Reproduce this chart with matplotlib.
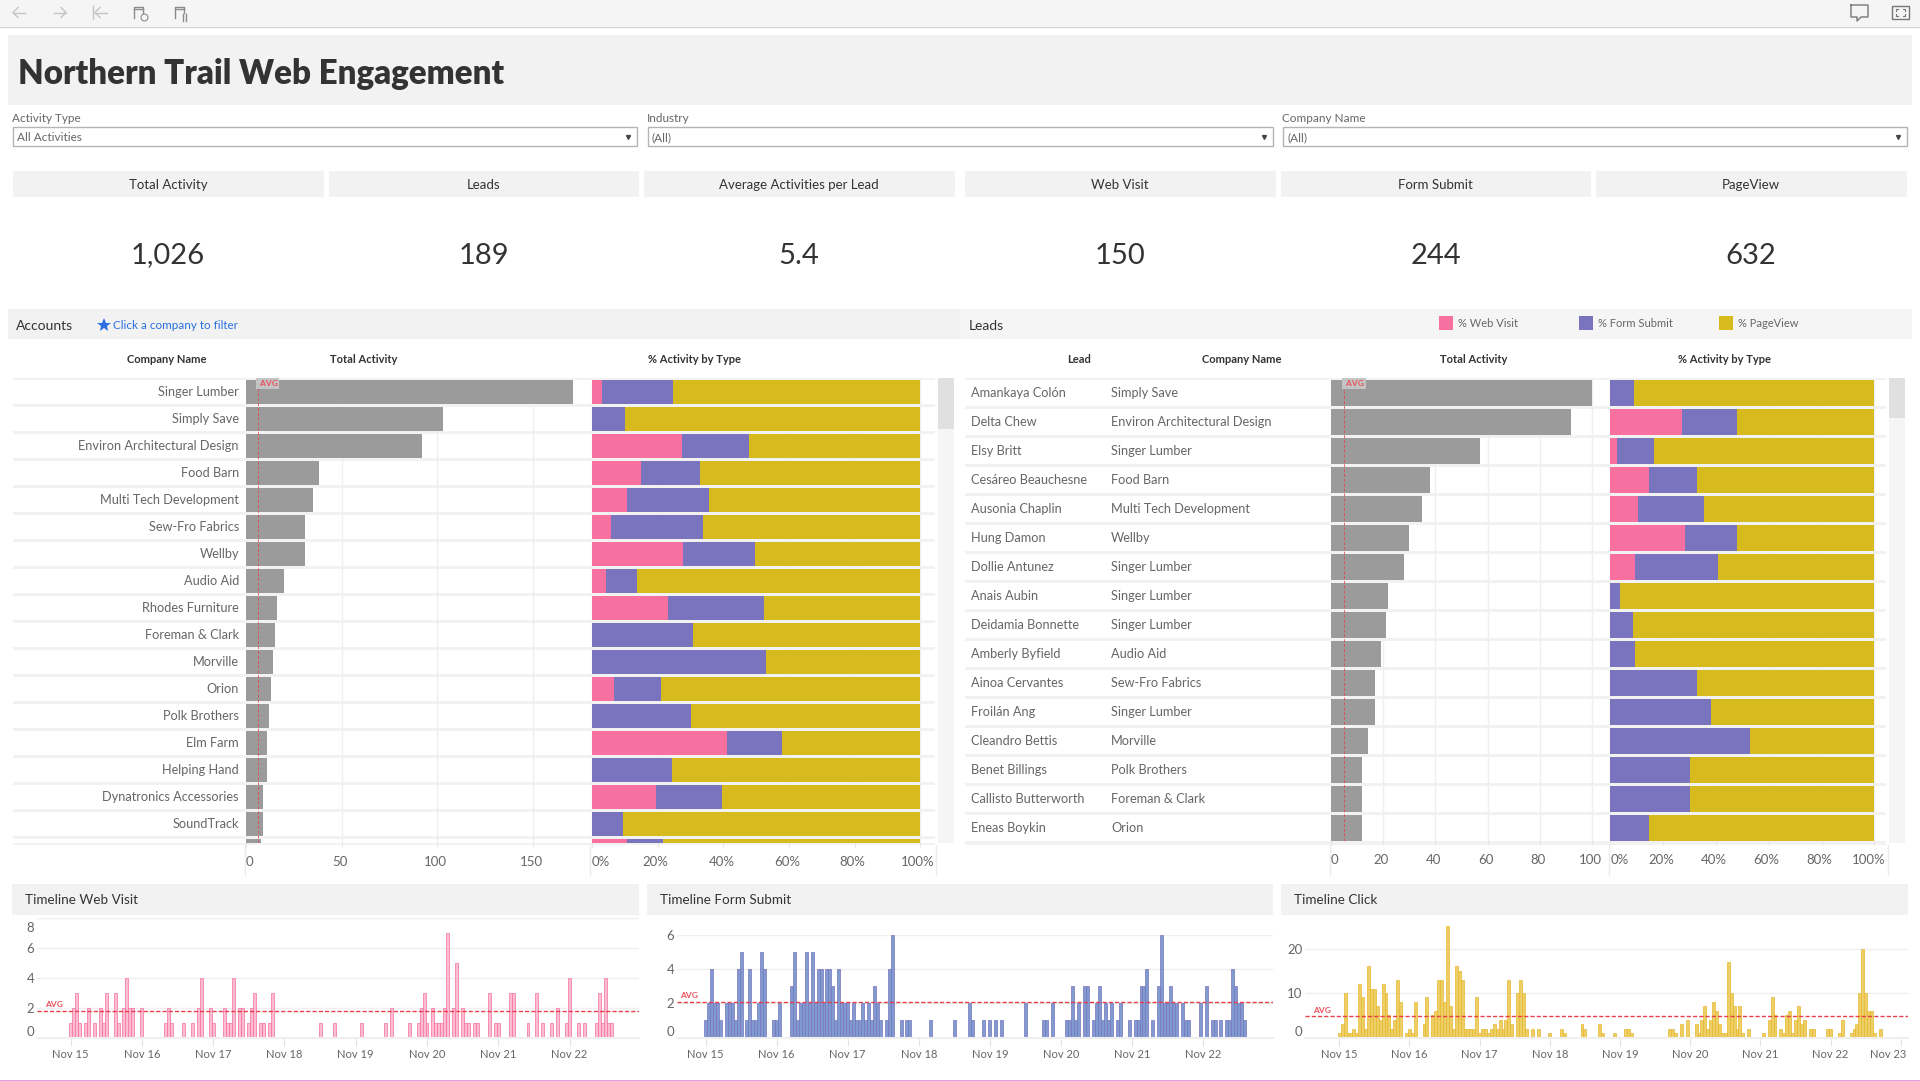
import matplotlib
matplotlib.use('Agg')
import matplotlib.pyplot as plt
from matplotlib.patches import Rectangle
from matplotlib.transforms import ScaledTranslation

plt.rcParams['font.family'] = ['Lato', 'DejaVu Sans']

W, H = 1920, 1081

# ---- data ----
kpi_titles = ['Total Activity', 'Leads', 'Average Activities per Lead', 'Web Visit', 'Form Submit', 'PageView']
kpi_values = ['1,026', '189', '5.4', '150', '244', '632']

companies = ['Singer Lumber', 'Simply Save', 'Environ Architectural Design', 'Food Barn', 'Multi Tech Development',
             'Sew-Fro Fabrics', 'Wellby', 'Audio Aid', 'Rhodes Furniture', 'Foreman & Clark', 'Morville', 'Orion',
             'Polk Brothers', 'Elm Farm', 'Helping Hand', 'Dynatronics Accessories', 'SoundTrack']
company_total = [171, 103, 92, 38, 35, 31, 31, 20, 16, 15, 14, 13, 12, 11, 11, 9, 9, 8]
company_web = [3.0, 0, 27.4, 14.9, 10.6, 5.8, 27.8, 4.3, 23.1, 0, 0, 6.7, 0, 41.0, 0, 19.4, 0, 10.6]
company_form = [21.6, 10.1, 20.4, 17.9, 25.0, 28.0, 21.8, 9.3, 29.3, 30.8, 53.0, 14.4, 30.2, 16.8, 24.4, 20.2, 9.5, 11.0]
company_avg = 6.2

leads = ['Amankaya Colón', 'Delta Chew', 'Elsy Britt', 'Cesáreo Beauchesne', 'Ausonia Chaplin', 'Hung Damon',
         'Dollie Antunez', 'Anais Aubin', 'Deidamia Bonnette', 'Amberly Byfield', 'Ainoa Cervantes', 'Froilán Ang',
         'Cleandro Bettis', 'Benet Billings', 'Callisto Butterworth', 'Eneas Boykin']
lead_company = ['Simply Save', 'Environ Architectural Design', 'Singer Lumber', 'Food Barn', 'Multi Tech Development',
                'Wellby', 'Singer Lumber', 'Singer Lumber', 'Singer Lumber', 'Audio Aid', 'Sew-Fro Fabrics',
                'Singer Lumber', 'Morville', 'Polk Brothers', 'Foreman & Clark', 'Orion']
lead_total = [100, 92, 57, 38, 35, 30, 28, 22, 21, 19, 17, 17, 14, 12, 12, 12]
lead_web = [0, 27.1, 2.6, 14.6, 10.4, 28.3, 9.3, 0, 0, 0, 0, 0, 0, 0, 0, 0]
lead_form = [9.0, 20.9, 14.1, 18.3, 25.1, 19.7, 31.5, 3.7, 8.6, 9.3, 32.9, 38.3, 52.9, 30.2, 30.2, 14.6]
lead_avg = 5.0

# hour offset from Nov 15 00:00 and count in that hour
web_hours = [0, 1, 2, 3, 5, 6, 8, 10, 11, 12, 15, 16, 18, 19, 20, 21, 24, 32, 33, 34, 38, 41, 43, 44, 47, 48, 52, 53, 54,
             55, 57, 58, 60, 61, 62, 64, 65, 67, 68, 84, 89, 98, 106, 108, 114, 117, 118, 119, 120, 122, 123, 124, 125,
             126, 127, 129, 130, 132, 133, 134, 136, 137, 141, 143, 144, 148, 149, 154, 157, 159, 162, 164, 167, 168,
             171, 173, 177, 178, 179, 180, 181, 182]
web_counts = [1, 2, 3, 1, 1, 2, 1, 2, 1, 3, 3, 1, 2, 4, 2, 2, 2, 1, 2, 1, 1, 1, 2, 4, 2, 1, 2, 1, 1,
              4, 2, 2, 1, 2, 3, 1, 1, 1, 3, 1, 1, 1, 1, 2, 1, 1, 2, 3, 1, 2, 1, 1, 1,
              2, 7, 2, 5, 2, 1, 1, 1, 1, 3, 1, 1, 3, 3, 1, 3, 1, 1, 2, 1, 4,
              1, 1, 1, 3, 1, 4, 1, 1]
web_avg = 1.78

form_hours = [0, 1, 2, 3, 4, 5, 7, 8, 9, 10, 11, 12, 14, 15, 16, 17, 18, 19, 20, 23, 24, 25, 29, 30, 31, 32, 33, 34, 35,
              36, 37, 38, 39, 40, 41, 42, 43, 44, 45, 46, 47, 48, 49, 50, 51, 52, 53, 54, 55, 56, 57, 58, 59, 61, 62, 63,
              66, 68, 69, 76, 84, 89, 90, 94, 96, 98, 100, 108, 114, 115, 117, 122, 123, 124, 125, 126, 128, 129, 131,
              132, 133, 134, 135, 136, 137, 139, 140, 143, 145, 146, 147, 148, 149, 151, 153, 154, 155, 156, 157, 158,
              159, 161, 162, 163, 167, 169, 171, 172, 174, 176, 177, 178, 179, 180, 181, 182]
form_counts = [1, 2, 4, 2, 2, 1, 2, 2, 2, 1, 4, 5, 1, 4, 1, 1, 2, 5, 4, 1, 1, 2, 3, 5, 1, 2, 2, 5, 2,
               5, 2, 4, 4, 2, 4, 4, 3, 1, 4, 2, 2, 2, 1, 2, 1, 1, 2, 1, 2, 1, 3, 2, 1, 1, 4, 6,
               1, 1, 1, 1, 1, 2, 1, 1, 1, 1, 1, 2, 1, 1, 2, 1, 1, 3, 1, 2, 3, 3, 1,
               2, 3, 1, 2, 1, 2, 1, 2, 1, 1, 1, 3, 3, 4, 1, 3, 6, 2, 2, 3, 2,
               2, 2, 1, 1, 2, 3, 1, 1, 1, 1, 1, 4, 3, 2, 2, 1]
form_avg = 2.08

click_hours = [0, 1, 2, 3, 4, 5, 6, 7, 8, 9, 10, 11, 12, 13, 14, 15, 16, 17, 18, 19, 20, 21, 23, 24, 25, 26, 29, 30, 32,
               33, 34, 35, 36, 37, 38, 39, 40, 41, 42, 43, 44, 45, 46, 47, 48, 49, 50, 51, 52, 53, 54, 55, 56, 57, 58, 59,
               61, 62, 63, 64, 66, 68, 72, 76, 77, 83, 84, 89, 90, 94, 98, 99, 100, 113, 114, 115, 117, 119, 122, 123,
               124, 125, 126, 127, 128, 129, 130, 131, 132, 133, 134, 135, 136, 137, 138, 140, 145, 147, 148, 149, 151,
               152, 153, 154, 155, 156, 157, 158, 159, 161, 162, 167, 168, 171, 172, 175, 176, 177, 178, 179, 180, 181,
               182, 183, 185]
click_counts = [1, 3, 10, 1, 1, 2, 1, 12, 9, 2, 16, 11, 11, 7, 4, 12, 10, 5, 2, 4, 13, 8, 1, 2, 1, 8, 3, 9, 5,
                6, 13, 13, 8, 25, 7, 2, 16, 15, 13, 2, 2, 2, 2, 9, 1, 2, 2, 1, 2, 3, 2, 4, 2, 4, 13, 3,
                10, 13, 10, 2, 2, 2, 1, 2, 1, 3, 2, 3, 1, 1, 2, 2, 1, 2, 2, 1, 3, 4, 3, 1,
                4, 7, 2, 4, 8, 6, 3, 1, 1, 17, 10, 7, 2, 7, 1, 2, 1, 4, 9, 5, 2,
                1, 5, 6, 1, 4, 7, 3, 4, 2, 2, 2, 2, 1, 4, 1, 2, 3, 10, 20, 10, 6,
                6, 1, 2]
click_avg = 4.76

day_labels = ['Nov 15', 'Nov 16', 'Nov 17', 'Nov 18', 'Nov 19', 'Nov 20', 'Nov 21', 'Nov 22', 'Nov 23']

PINK = '#f7709f'
PURPLE = '#7a74bf'
GOLD = '#d6ba1e'
GREY = '#9b9b9b'
RED = '#e8404a'
BAND = '#f2f2f2'
BAND2 = '#f5f5f5'
GRID = '#efefef'
TXT = '#666666'
DARK = '#333333'

fig = plt.figure(figsize=(W / 100, H / 100), dpi=100, facecolor='white')

# background layer in pixel coordinates, for the dashboard furniture
bg = fig.add_axes([0, 0, 1, 1])
bg.set_xlim(0, W)
bg.set_ylim(H, 0)
bg.axis('off')


def px_axes(x0, y0, x1, y1):
    ax = fig.add_axes([x0 / W, 1 - y1 / H, (x1 - x0) / W, (y1 - y0) / H])
    ax.set_facecolor('none')
    for s in ax.spines.values():
        s.set_visible(False)
    return ax


def band(x0, y0, x1, y1, color=BAND, **kw):
    bg.add_patch(Rectangle((x0, y0), x1 - x0, y1 - y0, facecolor=color, edgecolor='none', **kw))


def shift_label(lab, dx, dy=0):
    # dx, dy in pixels at dpi 100
    lab.set_transform(lab.get_transform() + ScaledTranslation(dx / 100, dy / 100, fig.dpi_scale_trans))


# toolbar
band(0, 0, W, 26, BAND2)
bg.plot([0, W], [26.5, 26.5], color='#d4d4d4', lw=1)
light = dict(color='#c4c4c4', lw=1)
for x0, x1, d in [(13, 25, -1), (54, 66, 1), (95, 107, -1)]:
    tip = x0 if d < 0 else x1
    bg.plot([x0, x1], [12.5, 12.5], **light)
    bg.plot([tip - d * 5, tip, tip - d * 5], [7.5, 12.5, 17.5], **light)
bg.plot([93, 93], [6, 19], **light)
mid = dict(color='#8c8c8c', lw=1)
for x in [134, 175]:
    bg.plot([x, x, x + 9, x + 9], [18, 7, 7, 13], **mid)
    bg.plot([x, x + 9], [9, 9], **mid)
bg.plot([143.5], [17], marker='o', ms=5, mfc='none', mec='#8c8c8c', mew=0.8)
bg.plot([183, 183], [14, 21], **mid)
bg.plot([186, 186], [14, 21], **mid)
bg.plot([1851, 1868, 1868, 1861, 1857, 1857, 1851, 1851], [5, 5, 17, 17, 21, 17, 17, 5], color='#777777', lw=1)
bg.add_patch(Rectangle((1892, 6), 17, 13, facecolor='none', edgecolor='#777777', lw=1))
for cx, cy, sx, sy in [(1896, 9, 1, 1), (1905, 9, -1, 1), (1896, 16, 1, -1), (1905, 16, -1, -1)]:
    bg.plot([cx + 2 * sx, cx, cx], [cy, cy, cy + 2 * sy], color='#777777', lw=0.8)

# title
band(8, 35, 1912, 105)
bg.text(18, 73.5, 'Northern Trail Web Engagement', fontsize=23.8, fontweight='heavy', color=DARK, va='center')

# filters
filters = [('Activity Type', 'All Activities', 13, 637), ('Industry', '(All)', 648, 1273), ('Company Name', '(All)', 1283, 1907)]
for name, value, x0, x1 in filters:
    bg.text(x0 - 1, 118.5, name, fontsize=8.5, color=TXT, va='center')
    bg.add_patch(Rectangle((x0, 127), x1 - x0, 19, facecolor='white', edgecolor='#b4b4b4', lw=1))
    bg.text(x0 + 4, 137.5, value, fontsize=8.5, color=TXT, va='center')
    bg.plot([x1 - 9], [137], marker='v', ms=2.8, color='#444444')

# KPI tiles
kpi_x = [(13, 324), (329, 639), (644, 955), (965, 1276), (1281, 1591), (1596, 1907)]
for (x0, x1), title, value in zip(kpi_x, kpi_titles, kpi_values):
    band(x0, y0=171, x1=x1, y1=197)
    bg.text((x0 + x1) / 2 - 0.5, 185, title, fontsize=9.5, color=DARK, ha='center', va='center')
    bg.text((x0 + x1) / 2 - 0.5, 255.5, value, fontsize=21, color=DARK, ha='center', va='center')

# section bands
band(8, 309, 960, 339)
band(960, 309, 1912, 339, BAND2)
bg.text(16, 325.5, 'Accounts', fontsize=10, color=DARK, va='center')
bg.plot([104], [325], marker='*', ms=10, color='#2a6fe0', mew=0)
bg.text(113, 325.5, 'Click a company to filter', fontsize=8.4, color='#2a6fe0', va='center')
bg.text(969, 325.5, 'Leads', fontsize=10, color=DARK, va='center')
for sx, label, c in [(1439, '% Web Visit', PINK), (1579, '% Form Submit', PURPLE), (1719, '% PageView', GOLD)]:
    band(sx, 316, sx + 14, 330, c)
    bg.text(sx + 19, 323.5, label, fontsize=8, color=TXT, va='center')

# column headers
for x, label in [(167, 'Company Name'), (364, 'Total Activity'), (694, '% Activity by Type'),
                 (1079, 'Lead'), (1242, 'Company Name'), (1474, 'Total Activity'), (1725, '% Activity by Type')]:
    bg.text(x, 359.5, label, fontsize=8, fontweight='bold', color=DARK, ha='center', va='center')


def table(rows_total, rows_web, rows_form, avg, first, pitch, bar_h, bottom, band_x, tot_px, tot_ticks,
          tot_scale, stack_px, stack_left, stack_scale, tot_zero, last_shift, tick_y=845):
    n = len(rows_total)
    # row separators
    y = first
    band(band_x[0], first - 2, band_x[1], first, BAND)
    while y + bar_h < bottom:
        band(band_x[0], y + bar_h, band_x[1], y + pitch, BAND)
        y += pitch
    band(band_x[0], bottom, band_x[1], tick_y, BAND)

    y_top = (first - 2 - (first + bar_h / 2)) / pitch
    y_bot = (bottom - (first + bar_h / 2)) / pitch
    idx = list(range(n))

    ax = px_axes(tot_px[0], first - 2, tot_px[1], bottom)
    ax.set_xlim((tot_px[0] - tot_zero) / tot_scale, (tot_px[1] - tot_zero) / tot_scale)
    ax.set_ylim(y_bot, y_top)
    ax.grid(axis='x', color=GRID, lw=1)
    ax.set_axisbelow(True)
    ax.barh(idx, rows_total, height=bar_h / pitch, color=GREY)
    ax.axvline(avg, color=RED, lw=0.7, ls=(0, (3, 2)), alpha=0.8)
    ax.text(avg, y_top + 2 / pitch, ' AVG', fontsize=6, fontweight='bold', color='#e8505b', va='top', ha='left',
            bbox=dict(facecolor='#c4c4c4', edgecolor='none', pad=1.2))
    ax.set_yticks([])
    ax.set_xticks(tot_ticks)
    ax.set_xticklabels([str(t) for t in tot_ticks], fontsize=9.5, color=TXT)
    ax.tick_params(axis='x', length=3, color='#e4e4e4', pad=6.3)
    labs = ax.get_xticklabels()
    labs[0].set_ha('left')
    for lab in labs[1:]:
        shift_label(lab, -2)

    ax2 = px_axes(stack_px[0], first - 2, stack_px[1], bottom)
    ax2.set_xlim((stack_px[0] - stack_left) / stack_scale, (stack_px[1] - stack_left) / stack_scale)
    ax2.set_ylim(y_bot, y_top)
    ax2.grid(axis='x', color=GRID, lw=1)
    ax2.set_axisbelow(True)
    form_left = rows_web
    page_left = [a + b for a, b in zip(rows_web, rows_form)]
    page = [100 - p for p in page_left]
    ax2.barh(idx, rows_web, height=bar_h / pitch, color=PINK)
    ax2.barh(idx, rows_form, left=form_left, height=bar_h / pitch, color=PURPLE)
    ax2.barh(idx, page, left=page_left, height=bar_h / pitch, color=GOLD)
    ax2.set_yticks([])
    pct = [0, 20, 40, 60, 80, 100]
    ax2.set_xticks(pct)
    ax2.set_xticklabels([f'{p}%' for p in pct], fontsize=9.5, color=TXT)
    ax2.tick_params(axis='x', length=3, color='#e4e4e4', pad=6.3)
    labs = ax2.get_xticklabels()
    labs[0].set_ha('left')
    for lab in labs[1:-1]:
        shift_label(lab, -2)
    shift_label(labs[-1], last_shift)


table(company_total, company_web, company_form, company_avg, 380, 27, 24, 843, (13, 935), (246, 589), [0, 50, 100, 150],
      1.913, (590, 936), 592, 3.284, 246, -3)
table(lead_total, lead_web, lead_form, lead_avg, 380, 29, 26, 841, (965, 1886), (1331, 1608), [0, 20, 40, 60, 80, 100],
      2.61, (1609, 1888), 1610.3, 2.64, 1331, -6)

for i, name in enumerate(companies):
    bg.text(239, 392 + 27 * i, name, fontsize=9.2, color=TXT, ha='right', va='center')
for i, (lead, comp) in enumerate(zip(leads, lead_company)):
    bg.text(971, 393 + 29 * i, lead, fontsize=9.2, color=TXT, va='center')
    bg.text(1111, 393 + 29 * i, comp, fontsize=9.2, color=TXT, va='center')

# axis boundary lines and scrollbars
for x in [245, 590, 936, 1330, 1609, 1888]:
    bg.plot([x, x], [845, 875], color='#ececec', lw=1)
band(938, 378, 954, 843, BAND2)
band(938, 378, 954, 429, '#e0e0e0')
band(1889, 378, 1905, 843, BAND2)
band(1889, 378, 1905, 418, '#e0e0e0')


def timeline(x0, x1, band_x0, band_x1, title, hours, counts, avg, fill, edge, tick0, day_px, y_scale, y_ticks,
             y_top_px, labels, avg_label_x, top_inside=False):
    band(band_x0, 884, band_x1, 915)
    bg.text(band_x0 + 13, 900.5, title, fontsize=9.7, color=DARK, va='center')
    zero_px = 1037.5
    ax = px_axes(x0, y_top_px, x1, zero_px)
    hour_px = day_px / 24
    ax.set_xlim((x0 - tick0) / hour_px, (x1 - tick0) / hour_px)
    ax.set_ylim(0, (zero_px - y_top_px) / y_scale)
    ax.grid(axis='y', color=GRID, lw=1)
    ax.set_axisbelow(True)
    ax.bar(hours, counts, width=1, color=fill, edgecolor=edge, lw=0.5)
    ax.plot(ax.get_xlim(), [avg, avg], color=RED, lw=1, ls=(0, (3, 1.5)))
    ax.set_xlim((x0 - tick0) / hour_px, (x1 - tick0) / hour_px)
    ax.set_xticks([24 * i for i in range(len(labels))])
    ax.set_xticklabels(labels, fontsize=8, color=TXT)
    ax.set_yticks(y_ticks)
    ax.set_yticklabels([str(t) for t in y_ticks], fontsize=9.5, color=TXT)
    ax.tick_params(axis='x', length=6, color='#e4e4e4', pad=2.5)
    ax.tick_params(axis='y', length=0, pad=2)
    ylabels = ax.get_yticklabels()
    ylabels[0].set_va('bottom')
    if top_inside:
        ylabels[-1].set_va('top')
        shift_label(ylabels[-1], 0, -4)
    ax.spines['bottom'].set_visible(True)
    ax.spines['bottom'].set_color('#efefef')
    ax.spines['bottom'].set_linewidth(1.5)
    if len(labels) == 9:
        shift_label(ax.get_xticklabels()[-1], -13)
    bg.text(avg_label_x, zero_px - avg * y_scale - 6, 'AVG', fontsize=6, fontweight='bold', color='#e8505b', va='center')


timeline(37, 639, 12, 639, 'Timeline Web Visit', web_hours, web_counts, web_avg, '#fcbcd2', '#f76f9f', 70.5, 71.3, 15,
         [0, 2, 4, 6, 8], 918, day_labels[:8], 45, top_inside=True)
timeline(677, 1273, 647, 1273, 'Timeline Form Submit', form_hours, form_counts, form_avg, '#7f9bd0', '#7872be', 705.5, 71.1,
         17.1, [0, 2, 4, 6], 935, day_labels[:8], 680)
timeline(1305, 1908, 1281, 1908, 'Timeline Click', click_hours, click_counts, click_avg, '#eccf66', '#e9b82c', 1339.2, 70.2,
         4.45, [0, 10, 20], 926, day_labels, 1313)

# thin line along the bottom edge of the page
band(0, 1080, W, 1081, '#e0a0f0')

plt.savefig('out.png', dpi=100)
